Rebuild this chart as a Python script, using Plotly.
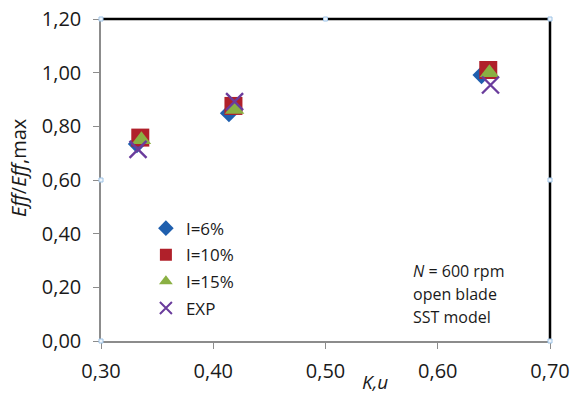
import plotly.graph_objects as go

# Data
x_i6 = [0.332, 0.414, 0.639]
y_i6 = [0.734, 0.849, 0.991]
x_i10 = [0.335, 0.418, 0.645]
y_i10 = [0.758, 0.876, 1.010]
x_i15 = [0.336, 0.419, 0.646]
y_i15 = [0.750, 0.863, 1.000]
x_exp = [0.333, 0.419, 0.647]
y_exp = [0.714, 0.892, 0.954]

x_ticks = [0.30, 0.40, 0.50, 0.60, 0.70]
x_tick_labels = ["0,30", "0,40", "0,50", "0,60", "0,70"]
y_ticks = [0.0, 0.2, 0.4, 0.6, 0.8, 1.0, 1.2]
y_tick_labels = ["0,00", "0,20", "0,40", "0,60", "0,80", "1,00", "1,20"]

note_lines = ["<i>N</i> = 600 rpm", "open blade", "SST model"]

FONT = "Open Sans"

fig = go.Figure()
fig.add_trace(go.Scatter(x=x_i6, y=y_i6, mode="markers", name="I=6%", legendgroup="a",
                         marker=dict(symbol="diamond", size=14, color="#1F5FAE")))
fig.add_trace(go.Scatter(x=x_i10, y=y_i10, mode="markers", name="I=10%", legendgroup="b",
                         marker=dict(symbol="square", size=18, color="#B0202A")))
fig.add_trace(go.Scatter(x=x_i15, y=y_i15, mode="markers", name="I=15%", legendgroup="c",
                         marker=dict(symbol="triangle-up", size=17, color="#8AB043")))
fig.add_trace(go.Scatter(x=x_exp, y=y_exp, mode="markers", name="EXP", legendgroup="d",
                         marker=dict(symbol="x-thin", size=17,
                                     line=dict(color="#6A3C9C", width=2.4))))

fig.update_layout(
    width=572, height=396,
    margin=dict(l=101, r=22, t=19, b=55),
    paper_bgcolor="white", plot_bgcolor="white",
    font=dict(family=FONT, size=16, color="#1a1a1a"),
    showlegend=True,
    legend=dict(x=0.10, y=0.405, xanchor="left", yanchor="top",
                bgcolor="rgba(0,0,0,0)", font=dict(size=17, family=FONT),
                itemsizing="constant", tracegroupgap=1.5),
    xaxis=dict(range=[0.30, 0.70], tickvals=x_ticks, ticktext=x_tick_labels,
               showgrid=False, zeroline=False, showline=True, linecolor="#8c8c8c",
               linewidth=1.5, ticks="outside", ticklen=6, tickcolor="#8c8c8c",
               automargin=False, ticklabelstandoff=5,
               tickfont=dict(size=20, family=FONT)),
    yaxis=dict(range=[0, 1.2], tickvals=y_ticks, ticktext=y_tick_labels,
               showgrid=False, zeroline=False, showline=True, linecolor="#8c8c8c",
               linewidth=1.5, ticks="outside", ticklen=6, tickcolor="#8c8c8c",
               automargin=False, ticklabelstandoff=8,
               tickfont=dict(size=20, family=FONT)),
)

# Top and right frame lines (black)
fig.add_shape(type="line", xref="paper", yref="paper", x0=0, x1=1, y0=1, y1=1,
              line=dict(color="black", width=2.5))
fig.add_shape(type="line", xref="paper", yref="paper", x0=1, x1=1, y0=0, y1=1,
              line=dict(color="black", width=2.5))

# Small selection handles on the frame
for hx, hy in [(0, 1), (0.5, 1), (1, 1), (0, 0.5), (1, 0.5), (0, 0), (1, 0)]:
    fig.add_shape(type="rect", xref="paper", yref="paper",
                  x0=-2, x1=2, y0=-2, y1=2, xsizemode="pixel", ysizemode="pixel",
                  xanchor=hx, yanchor=hy,
                  line=dict(color="#9ec3e6", width=1), fillcolor="#eef5fc")

# y-axis title
fig.add_annotation(text="<i>Eff</i>/<i>Eff</i>,max", xref="paper", yref="paper",
                   x=-0.185, y=0.54, xanchor="center", yanchor="middle", textangle=-90,
                   showarrow=False, font=dict(size=20, family=FONT))

# x-axis title
fig.add_annotation(text="<i>K,u</i>", xref="paper", yref="paper", x=0.61, y=-0.128,
                   showarrow=False, yanchor="middle", font=dict(size=19, family=FONT))

# Text box lines
for i, line in enumerate(note_lines):
    fig.add_annotation(text=line, xref="paper", yref="paper", x=0.690,
                       y=0.218 - i * 0.0725, xanchor="left", yanchor="middle",
                       align="left", showarrow=False, font=dict(size=16, family=FONT))

fig.write_html("out.html", config={"displayModeBar": False},
               post_script="document.body.style.margin='0';document.body.style.overflow='hidden';")
